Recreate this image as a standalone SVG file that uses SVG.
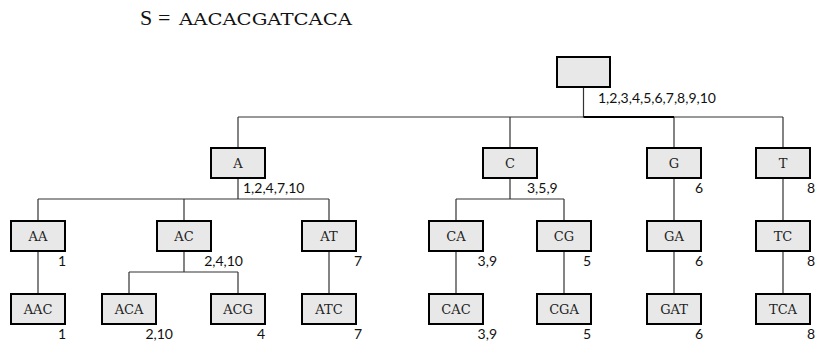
<svg xmlns="http://www.w3.org/2000/svg" width="816" height="345" viewBox="0 0 816 345">
<style>
.box{fill:#e8e8e8;stroke:#000;stroke-width:2}
.lbl{font-family:"DejaVu Serif","Liberation Serif",serif;font-size:13px;text-anchor:middle;fill:#222}
.pos{font-family:Lato,"Open Sans",sans-serif;font-size:14px;fill:#111}
.e{text-anchor:end}
.conn{stroke:#333;stroke-width:1.2;fill:none}
</style>
<rect width="816" height="345" fill="#fff"/>
<g id="title" fill="#111">
<text x="140" y="25" font-family="Liberation Serif,serif" font-size="22">S</text>
<text x="158" y="25" font-family="Liberation Serif,serif" font-size="22">=</text>
<text x="179" y="25" font-family="DejaVu Serif,serif" font-size="17.5" textLength="173" lengthAdjust="spacingAndGlyphs">AACACGATCACA</text>
</g>
<g id="connectors" class="conn">
<path d="M583.5,87V117M238,117H783M238,117V148M510,117V148M674,117V148M783,117V148"/>
<path d="M583.5,117H674" stroke="#000" stroke-width="2"/>
<path d="M238,178V199M38,199H329M38,199V221M184,199V221M329,199V221"/>
<path d="M510,178V199M456,199H564M456,199V221M564,199V221"/>
<path d="M674,178V221M783,178V221"/>
<path d="M38,251V294M329,251V294M456,251V294M564,251V294M674,251V294M783,251V294"/>
<path d="M184,251V272M129,272H238M129,272V294M238,272V294"/>
</g>
<g id="root"><rect class="box" x="557" y="57" width="53" height="30"/><text class="pos" x="598" y="103">1,2,3,4,5,6,7,8,9,10</text></g>
<g id="n-A"><rect class="box" x="211" y="148" width="54" height="30"/><text class="lbl" x="238" y="168">A</text><text class="pos" x="243" y="193">1,2,4,7,10</text></g>
<g id="n-C"><rect class="box" x="483" y="148" width="54" height="30"/><text class="lbl" x="510" y="168">C</text><text class="pos" x="527" y="193">3,5,9</text></g>
<g id="n-G"><rect class="box" x="647" y="148" width="54" height="30"/><text class="lbl" x="674" y="168">G</text><text class="pos e" x="703" y="193">6</text></g>
<g id="n-T"><rect class="box" x="756" y="148" width="54" height="30"/><text class="lbl" x="783" y="168">T</text><text class="pos e" x="815" y="193">8</text></g>
<g id="n-AA"><rect class="box" x="11" y="221" width="54" height="30"/><text class="lbl" x="38" y="241">AA</text><text class="pos e" x="66" y="266">1</text></g>
<g id="n-AC"><rect class="box" x="157" y="221" width="54" height="30"/><text class="lbl" x="184" y="241">AC</text><text class="pos e" x="243" y="266">2,4,10</text></g>
<g id="n-AT"><rect class="box" x="302" y="221" width="54" height="30"/><text class="lbl" x="329" y="241">AT</text><text class="pos e" x="362" y="266">7</text></g>
<g id="n-CA"><rect class="box" x="429" y="221" width="54" height="30"/><text class="lbl" x="456" y="241">CA</text><text class="pos e" x="497" y="266">3,9</text></g>
<g id="n-CG"><rect class="box" x="537" y="221" width="54" height="30"/><text class="lbl" x="564" y="241">CG</text><text class="pos e" x="591" y="266">5</text></g>
<g id="n-GA"><rect class="box" x="647" y="221" width="54" height="30"/><text class="lbl" x="674" y="241">GA</text><text class="pos e" x="703" y="266">6</text></g>
<g id="n-TC"><rect class="box" x="756" y="221" width="54" height="30"/><text class="lbl" x="783" y="241">TC</text><text class="pos e" x="815" y="266">8</text></g>
<g id="n-AAC"><rect class="box" x="11" y="294" width="54" height="30"/><text class="lbl" x="38" y="314">AAC</text><text class="pos e" x="66" y="339">1</text></g>
<g id="n-ACA"><rect class="box" x="102" y="294" width="54" height="30"/><text class="lbl" x="129" y="314">ACA</text><text class="pos e" x="173" y="339">2,10</text></g>
<g id="n-ACG"><rect class="box" x="211" y="294" width="54" height="30"/><text class="lbl" x="238" y="314">ACG</text><text class="pos e" x="265" y="339">4</text></g>
<g id="n-ATC"><rect class="box" x="302" y="294" width="54" height="30"/><text class="lbl" x="329" y="314">ATC</text><text class="pos e" x="362" y="339">7</text></g>
<g id="n-CAC"><rect class="box" x="429" y="294" width="54" height="30"/><text class="lbl" x="456" y="314">CAC</text><text class="pos e" x="497" y="339">3,9</text></g>
<g id="n-CGA"><rect class="box" x="537" y="294" width="54" height="30"/><text class="lbl" x="564" y="314">CGA</text><text class="pos e" x="591" y="339">5</text></g>
<g id="n-GAT"><rect class="box" x="647" y="294" width="54" height="30"/><text class="lbl" x="674" y="314">GAT</text><text class="pos e" x="703" y="339">6</text></g>
<g id="n-TCA"><rect class="box" x="756" y="294" width="54" height="30"/><text class="lbl" x="783" y="314">TCA</text><text class="pos e" x="815" y="339">8</text></g>
</svg>
